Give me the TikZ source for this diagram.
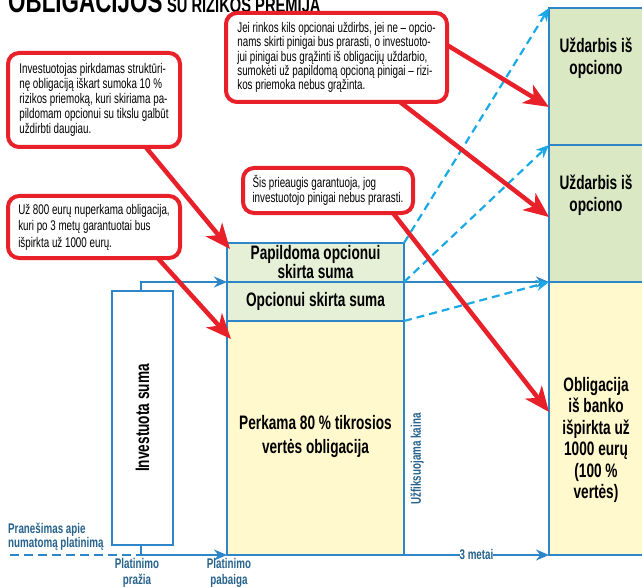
\documentclass[tikz,border=0pt]{standalone}
\usepackage{fontspec}
\setmainfont{Liberation Sans}[FakeStretch=0.7]
\usetikzlibrary{arrows.meta,calc}
\definecolor{bl}{RGB}{46,134,200}
\definecolor{cy}{RGB}{27,169,230}
\definecolor{rd}{RGB}{232,32,42}
\definecolor{gr}{RGB}{218,232,195}
\definecolor{grl}{RGB}{230,240,214}
\definecolor{yl}{RGB}{255,249,205}
\definecolor{lab}{RGB}{38,98,140}
\tikzset{
  boxst/.style={draw=bl,line width=2.2pt,outer sep=0pt,inner sep=0pt,anchor=north west},
  callout/.style={draw=rd,line width=4pt,rounded corners=11pt,fill=white,anchor=north west,
    align=left,outer sep=0pt,inner sep=0pt,font=\fontsize{14}{15}\selectfont},
  btext/.style={font=\bfseries\fontsize{19.5}{21.5}\selectfont,align=center,inner sep=0pt},
  ltext/.style={font=\bfseries\fontsize{14}{16}\selectfont,text=lab,align=center,inner sep=0pt},
  bline/.style={draw=bl,line width=2.2pt},
  btip/.style={-{Stealth[length=13pt,width=11pt]}},
  cdash/.style={draw=cy,line width=2.2pt,dash pattern=on 8pt off 5pt,-{Stealth[length=13pt,width=11pt]}},
  rarrow/.style={draw=rd,line width=4.5pt,-{Stealth[length=25pt,width=21pt,inset=7pt]}}
}
\begin{document}
\begin{tikzpicture}[x=1pt,y=-1pt]
\useasboundingbox (0,0) rectangle (642,588);
\clip (0,0) rectangle (642,588);

% title (cut off at top)
\node[anchor=base west,inner sep=0pt,font=\bfseries\fontsize{32}{33}\selectfont] (t1) at (8,13) {OBLIGACIJOS};
\node[anchor=base west,inner sep=0pt,font=\bfseries\fontsize{21}{22}\selectfont] (t2) at (t1.base east) {\ SU RIZIKOS PREMIJA};

% right column
\node[boxst,fill=gr,minimum width=110pt,minimum height=137pt] (r1) at (549,8) {};
\node[boxst,fill=gr,minimum width=110pt,minimum height=137pt] (r2) at (549,145) {};
\node[boxst,fill=yl,minimum width=110pt,minimum height=273pt] (r3) at (549,282) {};
\node[btext] (r1t) at (596,58) {Uždarbis iš\\opciono};
\node[btext] (r2t) at (596,195) {Uždarbis iš\\opciono};
\node[btext] (r3t) at (596,440) {Obligacija\\iš banko\\išpirkta už\\1000 eurų\\(100 \%\\vertės)};

% middle column
\node[boxst,fill=grl,minimum width=177pt,minimum height=39pt] (p1) at (227,243) {};
\node[boxst,fill=grl,minimum width=177pt,minimum height=39pt] (p2) at (227,282) {};
\node[boxst,fill=yl,minimum width=177pt,minimum height=234pt] (p3) at (227,321) {};
\node[btext,font=\bfseries\fontsize{19.5}{19}\selectfont] (p1t) at (315.5,262.5) {Papildoma opcionui\\skirta suma};
\node[btext] (p2t) at (315.5,301.5) {Opcionui skirta suma};
\node[btext,font=\bfseries\fontsize{19.5}{24}\selectfont] (p3t) at (315.5,436) {Perkama 80 \% tikrosios\\vertės obligacija};

% invested sum
\node[boxst,fill=white,minimum width=61pt,minimum height=254pt] (inv) at (112,291) {};
\node[btext,rotate=90] (invt) at (142.5,418) {Investuota suma};

% blue connectors
\draw[bline,btip] ($(inv.north west)+(29,0)$) |- (p2.north west);
\draw[bline,btip] (p2.north east) -- (r3.north west);
\coordinate (n0) at (10,555);
\coordinate (t0) at (141,555);
\draw[bline,dash pattern=on 9pt off 5pt] (n0) -- (t0);
\draw[bline] (inv.south -| t0) -- (t0);
\draw[bline,btip] (t0) -- (p3.south west);
\draw[bline,btip] (p3.south east) -- node[fill=white,inner xsep=5pt,inner ysep=1pt,ltext] (m3) {3 metai} (r3.south west);

% dashed cyan connectors
\draw[cdash] (p1.north east) -- (r1.north west);
\draw[cdash] (p2.north east) -- (r2.north west);
\draw[cdash] (p3.north east) -- (r3.north west);

% labels
\node[ltext,align=left,anchor=north west,font=\bfseries\fontsize{14}{14}\selectfont] (lp) at (8,523) {Pranešimas apie\\numatomą platinimą};
\node[ltext,anchor=north] (lpr) at (137,558) {Platinimo\\pražia};
\node[ltext,anchor=north] (lpb) at (229,558) {Platinimo\\pabaiga};
\node[ltext,rotate=90] (lk) at (417,459) {Užfiksuojama kaina};

% callouts
\node[callout,minimum width=172pt,minimum height=94pt] (cA) at (8,53)
  {Investuotojas pirkdamas struktūri-\\nę obligaciją iškart sumoka 10 \%\\rizikos priemoką, kuri skiriama pa-\\pildomam opcionui su tikslu galbūt\\uždirbti daugiau.};
\node[callout,minimum width=172pt,minimum height=62pt,font=\fontsize{14}{16.5}\selectfont] (cB) at (8,196)
  {Už 800 eurų nuperkama obligacija,\\kuri po 3 metų garantuotai bus\\išpirkta už 1000 eurų.};
\node[callout,minimum width=221pt,minimum height=89pt,font=\fontsize{14}{14.2}\selectfont] (cC) at (226,13)
  {Jei rinkos kils opcionai uždirbs, jei ne – opcio-\\nams skirti pinigai bus prarasti, o investuoto-\\jui pinigai bus grąžinti iš obligacijų uždarbio,\\sumokėti už papildomą opcioną pinigai – rizi-\\kos priemoka nebus grąžinta.};
\node[callout,minimum width=170pt,minimum height=45pt] (cD) at (243,168)
  {Šis prieaugis garantuoja, jog\\investuotojo pinigai nebus prarasti.};

% red arrows
\draw[rarrow] ($(cA.south west)!0.8!(cA.south east)$) -- ($(p1.north west)+(3,6)$);
\draw[rarrow] ($(cB.south west)!0.87!(cB.south east)$) -- ($(p3.north west)+(4,18)$);
\draw[rarrow] ($(cC.north east)+(0,32)$) -- ($(r1.south west)+(0,-38)$);
\draw[rarrow] ($(cC.south east)+(-47,0)$) -- ($(r2.south west)+(0,-65)$);
\draw[rarrow] ($(cD.south east)+(-20,0)$) -- ($(r3.north west)+(0,130)$);
\end{tikzpicture}
\end{document}
